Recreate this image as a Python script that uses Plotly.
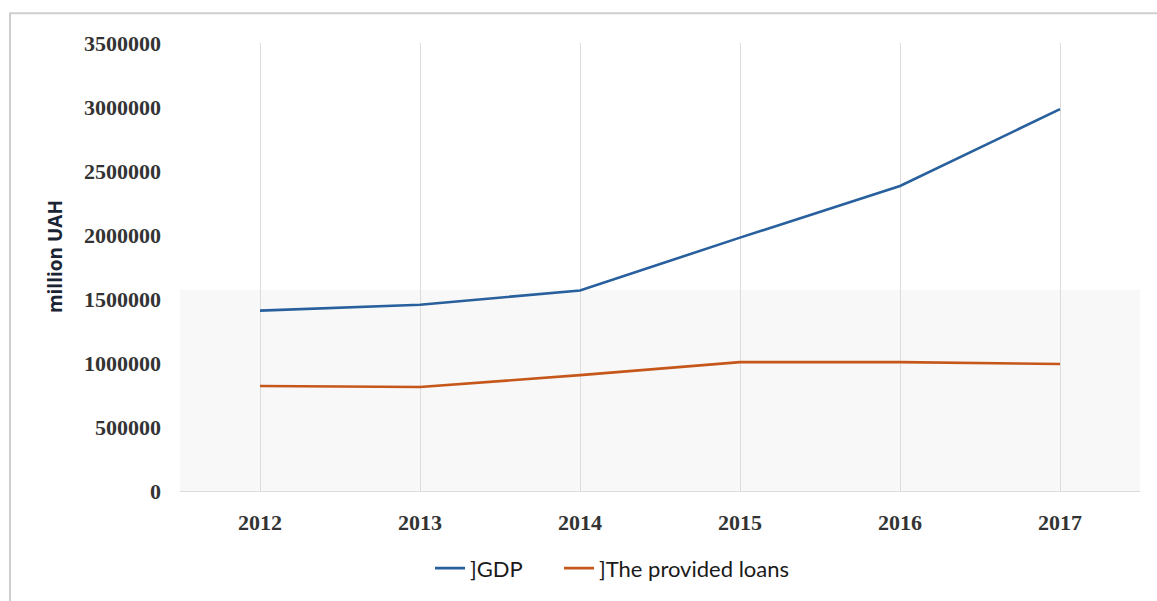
import plotly.graph_objects as go

# Ukraine: GDP vs. volume of provided loans, million UAH
years = ["2012", "2013", "2014", "2015", "2016", "2017"]
gdp = [1408889, 1454931, 1566728, 1979458, 2383182, 2982920]
loans = [820000, 812000, 905000, 1007000, 1007000, 992000]
y_ticks = [0, 500000, 1000000, 1500000, 2000000, 2500000, 3000000, 3500000]

W, H = 1157, 601
ML, MR, MT, MB = 180, 17, 43, 106
PW, PH = W - ML - MR, H - MT - MB

def px_x(x):
    return (x - ML) / PW

def px_y(y):
    return (H - MB - y) / PH

fig = go.Figure()
fig.add_trace(go.Scatter(
    x=years, y=gdp, mode="lines", name="]GDP", legend="legend",
    line=dict(color="#27609c", width=2.6),
))
fig.add_trace(go.Scatter(
    x=years, y=loans, mode="lines", name="]The provided loans", legend="legend2",
    line=dict(color="#c5571b", width=2.6),
))

serif = dict(family="Liberation Serif", size=22, color="#333333", weight="bold")
legend_font = dict(family="Lato", size=22, color="#1a1a1a")

fig.update_layout(
    width=W, height=H,
    margin=dict(l=ML, r=MR, t=MT, b=MB),
    paper_bgcolor="white",
    plot_bgcolor="white",
    showlegend=True,
    legend=dict(
        orientation="h", x=px_x(430), xanchor="left",
        y=px_y(573), yanchor="middle", font=legend_font,
    ),
    legend2=dict(
        orientation="h", x=px_x(559), xanchor="left",
        y=px_y(573), yanchor="middle", font=legend_font,
    ),
    xaxis=dict(
        type="category", range=[-0.5, 5.5],
        showgrid=True, gridcolor="#dcdcdc", gridwidth=1,
        showline=True, linecolor="#dcdcdc", linewidth=1,
        ticks="", tickfont=serif, ticklabelstandoff=12,
        zeroline=False,
    ),
    yaxis=dict(
        range=[0, 3500000],
        tickvals=y_ticks,
        ticktext=[str(v) for v in y_ticks],
        showgrid=False, zeroline=False, showline=False,
        ticks="", tickfont=serif, ticklabelstandoff=18,
    ),
    shapes=[
        # soft shaded band behind the lower part of the plot
        dict(type="rect", xref="paper", yref="paper",
             x0=0, x1=1, y0=0, y1=px_y(292),
             fillcolor="#f8f8f8", line=dict(width=0), layer="below"),
        # outer frame
        dict(type="rect", xref="paper", yref="paper",
             x0=px_x(10), x1=px_x(1170), y0=px_y(620), y1=px_y(13),
             fillcolor="rgba(0,0,0,0)", line=dict(color="#cfcfcf", width=2)),
    ],
    annotations=[
        dict(text="<b>million UAH</b>", textangle=-90,
             xref="paper", yref="paper", x=px_x(55), y=px_y(258),
             xanchor="center", yanchor="middle", showarrow=False,
             font=dict(family="Open Sans", size=19, color="#1b2433")),
    ],
)

fig.write_html("out.html")
